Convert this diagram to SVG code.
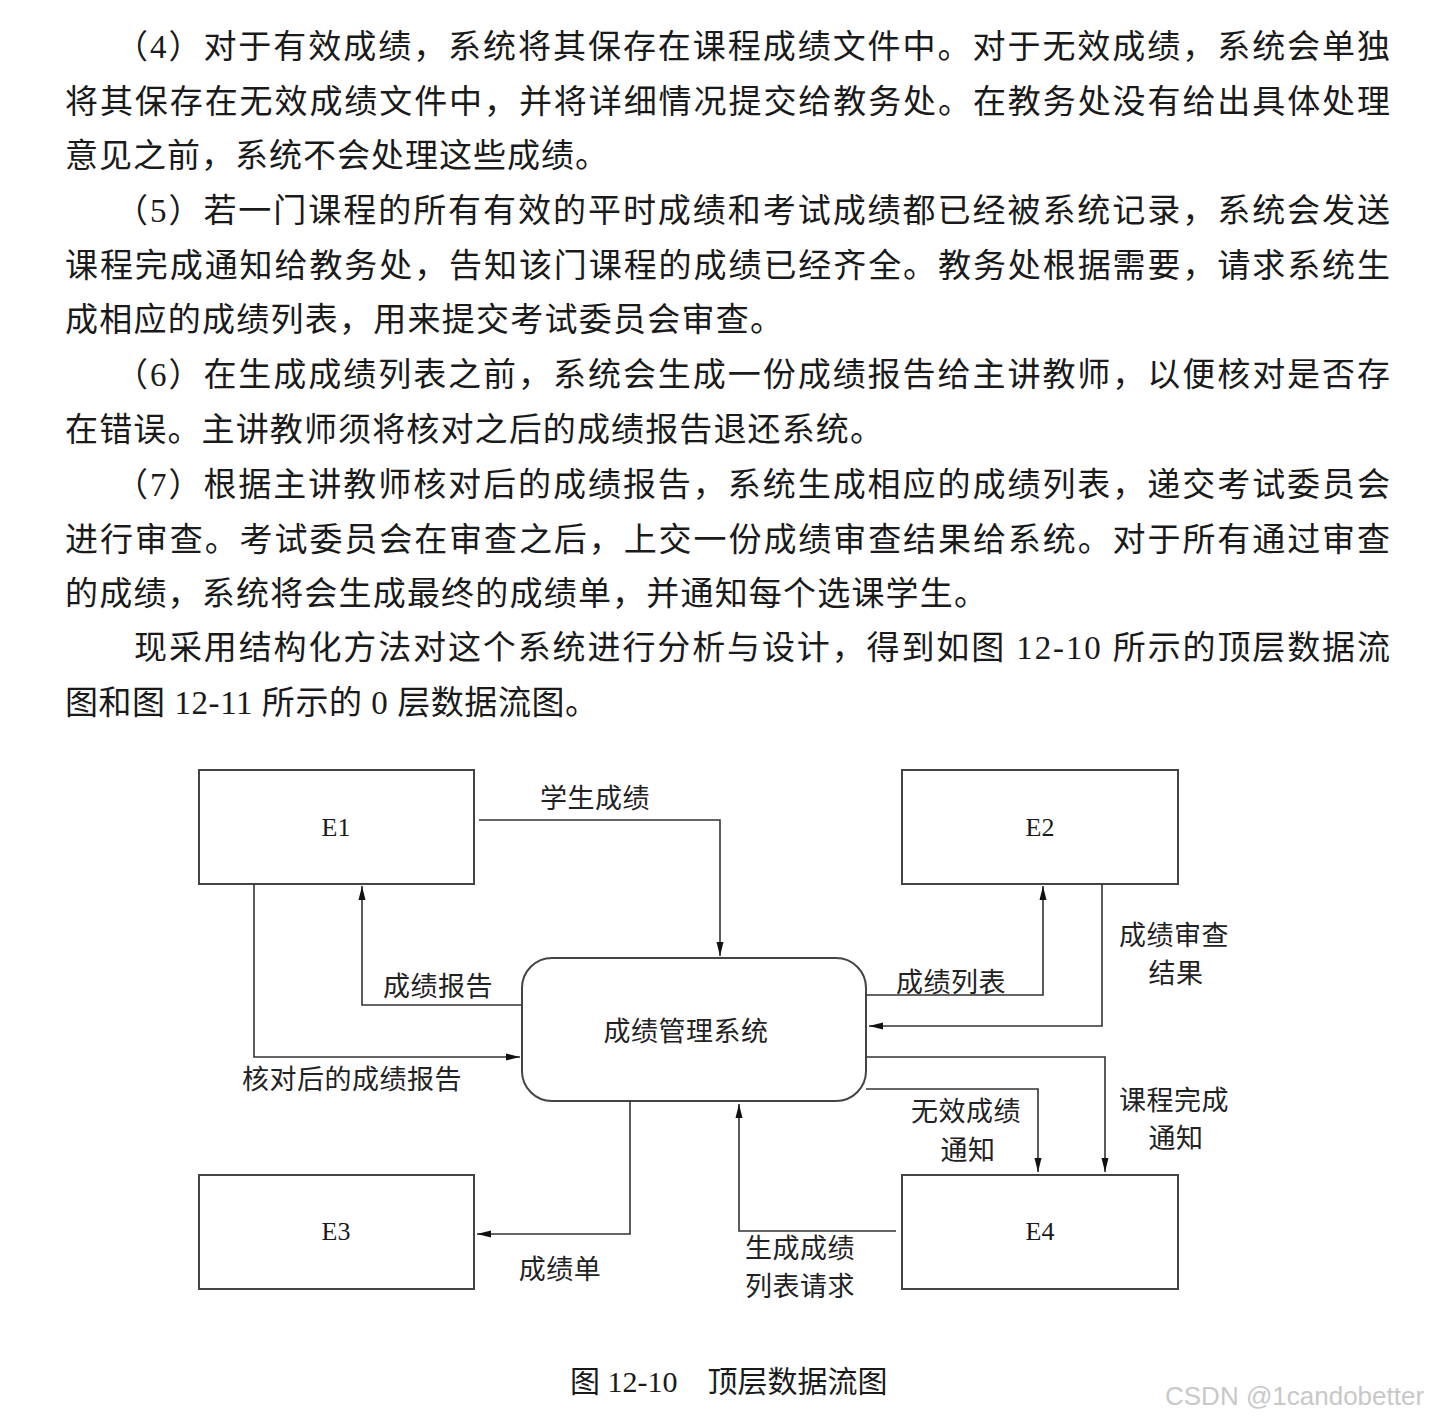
<svg xmlns="http://www.w3.org/2000/svg" width="1430" height="1422" viewBox="0 0 1430 1422">
<style>
.p{font-family:"Liberation Serif","Noto Sans CJK SC",serif;font-size:33px;fill:#1a1a1a}
.lbl{font-family:"Noto Sans CJK SC","Liberation Serif",serif;font-size:27px;letter-spacing:0.5px;fill:#222;text-anchor:middle}
.ent{font-family:"Liberation Serif","Noto Sans CJK SC",serif;font-size:26px;fill:#1a1a1a;text-anchor:middle}
.box{fill:#fff;stroke:#444;stroke-width:2}
.con{fill:none;stroke:#333;stroke-width:1.6}
.cap{font-family:"Liberation Serif","Noto Sans CJK SC",serif;font-size:30px;fill:#1a1a1a}
.wm{font-family:"Liberation Sans",Arial,sans-serif;font-size:26px;fill:#c8c8c8}
</style>
<defs>
<marker id="arr" markerUnits="userSpaceOnUse" markerWidth="15" markerHeight="8" refX="14" refY="4" orient="auto">
<path d="M0,0.5 L14,4 L0,7.5 z" fill="#111"/>
</marker>
</defs>
<rect width="1430" height="1422" fill="#fff"/>

<g id="paragraphs">
<text class="p" x="115" y="58" textLength="1275" lengthAdjust="spacing">（4）对于有效成绩，系统将其保存在课程成绩文件中。对于无效成绩，系统会单独</text>
<text class="p" x="65" y="113" textLength="1325" lengthAdjust="spacing">将其保存在无效成绩文件中，并将详细情况提交给教务处。在教务处没有给出具体处理</text>
<text class="p" x="65" y="167" textLength="543" lengthAdjust="spacing">意见之前，系统不会处理这些成绩。</text>
<text class="p" x="115" y="222" textLength="1275" lengthAdjust="spacing">（5）若一门课程的所有有效的平时成绩和考试成绩都已经被系统记录，系统会发送</text>
<text class="p" x="65" y="277" textLength="1325" lengthAdjust="spacing">课程完成通知给教务处，告知该门课程的成绩已经齐全。教务处根据需要，请求系统生</text>
<text class="p" x="65" y="331" textLength="718" lengthAdjust="spacing">成相应的成绩列表，用来提交考试委员会审查。</text>
<text class="p" x="115" y="386" textLength="1275" lengthAdjust="spacing">（6）在生成成绩列表之前，系统会生成一份成绩报告给主讲教师，以便核对是否存</text>
<text class="p" x="65" y="441" textLength="818" lengthAdjust="spacing">在错误。主讲教师须将核对之后的成绩报告退还系统。</text>
<text class="p" x="115" y="496" textLength="1275" lengthAdjust="spacing">（7）根据主讲教师核对后的成绩报告，系统生成相应的成绩列表，递交考试委员会</text>
<text class="p" x="65" y="551" textLength="1325" lengthAdjust="spacing">进行审查。考试委员会在审查之后，上交一份成绩审查结果给系统。对于所有通过审查</text>
<text class="p" x="65" y="605" textLength="922" lengthAdjust="spacing">的成绩，系统将会生成最终的成绩单，并通知每个选课学生。</text>
<text class="p" x="134" y="659" textLength="1256" lengthAdjust="spacing">现采用结构化方法对这个系统进行分析与设计，得到如图 12-10 所示的顶层数据流</text>
<text class="p" x="65" y="714" textLength="533" lengthAdjust="spacing">图和图 12-11 所示的 0 层数据流图。</text>
</g>

<g id="E1"><rect class="box" x="199" y="770" width="275" height="114"/><text class="ent" x="336" y="836">E1</text></g>
<g id="E2"><rect class="box" x="902" y="770" width="276" height="114"/><text class="ent" x="1040" y="836">E2</text></g>
<g id="E3"><rect class="box" x="199" y="1175" width="275" height="114"/><text class="ent" x="336" y="1240">E3</text></g>
<g id="E4"><rect class="box" x="902" y="1175" width="276" height="114"/><text class="ent" x="1040" y="1240">E4</text></g>
<g id="P0"><rect class="box" x="522" y="958" width="344" height="143" rx="30" ry="30"/><text class="lbl" x="686" y="1041">成绩管理系统</text></g>

<g id="connectors">
<path class="con" d="M479,820 H720 V956" marker-end="url(#arr)"/>
<path class="con" d="M521,1005 H362 V886" marker-end="url(#arr)"/>
<path class="con" d="M254,884 V1057 H520" marker-end="url(#arr)"/>
<path class="con" d="M866,995 H1043 V886" marker-end="url(#arr)"/>
<path class="con" d="M1102,884 V1026 H869" marker-end="url(#arr)"/>
<path class="con" d="M866,1057 H1105 V1172" marker-end="url(#arr)"/>
<path class="con" d="M866,1089 H1038 V1172" marker-end="url(#arr)"/>
<path class="con" d="M630,1101 V1234 H477" marker-end="url(#arr)"/>
<path class="con" d="M896,1231 H739 V1104" marker-end="url(#arr)"/>
</g>

<g id="labels">
<text class="lbl" x="595" y="808">学生成绩</text>
<text class="lbl" x="438" y="996">成绩报告</text>
<text class="lbl" x="352" y="1089">核对后的成绩报告</text>
<text class="lbl" x="951" y="992">成绩列表</text>
<text class="lbl" x="1174" y="945">成绩审查</text>
<text class="lbl" x="1176" y="983">结果</text>
<text class="lbl" x="1174" y="1110">课程完成</text>
<text class="lbl" x="1176" y="1148">通知</text>
<text class="lbl" x="966" y="1121">无效成绩</text>
<text class="lbl" x="968" y="1160">通知</text>
<text class="lbl" x="560" y="1279">成绩单</text>
<text class="lbl" x="800" y="1258">生成成绩</text>
<text class="lbl" x="800" y="1296">列表请求</text>
</g>

<text class="cap" x="570" y="1392">图 12-10　顶层数据流图</text>
<text class="wm" x="1165" y="1405">CSDN @1candobetter</text>
</svg>
